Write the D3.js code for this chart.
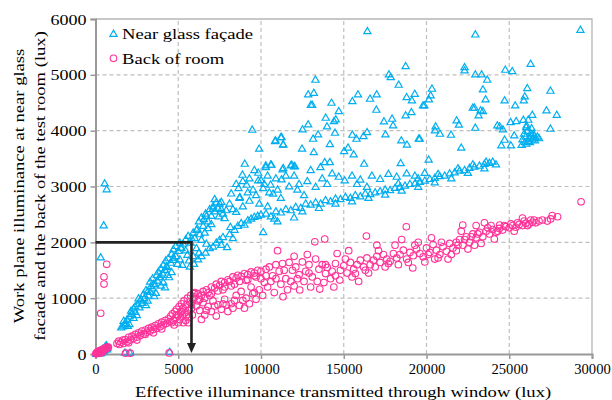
<!DOCTYPE html>
<html>
<head>
<meta charset="utf-8">
<script src="https://cdn.jsdelivr.net/npm/d3@7"></script>
<style>
  body { margin: 0; background: #fff; }
  svg { display: block; }
  text { font-family: "Liberation Serif", "Times New Roman", serif; fill: #000; }
</style>
</head>
<body>
<svg id="chart" width="612" height="400"></svg>
<script>
// Axis ticks
const xTicks = [0, 5000, 10000, 15000, 20000, 25000, 30000];
const yTicks = [0, 1000, 2000, 3000, 4000, 5000, 6000];

// Series labels
const seriesNames = ["Near glass façade", "Back of room"];

// Axis titles
const xTitle = "Effective illuminance transmitted through window (lux)";
const yTitleLines = ["Work plane illuminance at near glass", "facade and the back of the test room (lux)"];

// Reading guide: 2000 lux on the work plane <-> transmitted illuminance
const guideLevel = 2000;
const guideInput = 5800;

// Work plane illuminance near the glass façade [transmitted lux, work plane lux]
const nearFacade = [
  [40,5],[80,15],[120,10],[160,25],[200,30],[240,20],[280,45],[320,40],[360,60],[400,55],
  [440,75],[480,70],[520,90],[560,85],[600,110],[640,100],[680,130],[720,120],[600,145],[660,160],
  [500,50],[380,35],[300,15],[450,100],[700,90],
  [1780,30],[2080,25],[4480,45],
  [555,3060],[676,2955],[495,2310],[314,1736],
  [1550,480],[1650,500],[1750,530],[1850,560],[1950,510],[2050,540],[1700,600],[1900,620],
  [2050,680],[2200,720],[2300,650],[2150,780],[2400,760],[2500,700],
  [2400,860],[2550,900],[2650,840],[2700,960],[2850,920],[2950,1000],[3050,880],[3150,960],[2600,1000],
  [2900,1080],[3050,1150],[3200,1050],[3300,1120],[3450,1180],[3550,1040],[3650,1100],[3350,1220],
  [3300,1300],[3450,1360],[3600,1250],[3750,1320],[3850,1380],[3950,1230],[4100,1290],[4200,1200],[3700,1420],
  [3800,1480],[3950,1540],[4050,1450],[4200,1510],[4350,1420],[4450,1380],[4600,1470],[4100,1600],[4300,1580],
  [4250,1680],[4400,1720],[4550,1640],[4700,1690],[4850,1760],[4950,1620],[5100,1700],[4600,1800],[5250,1600],
  [4700,1880],[4850,1940],[5000,1850],[5150,1910],[5300,1980],[5450,1860],[5550,1780],[5100,2000],[5650,1680],
  [5450,2060],[5600,2120],[5750,2000],[5900,2180],[6000,2080],[6150,2250],[6300,2150],[6100,1900],[6400,2050],
  [6500,2300],[6250,1820],[5900,1760],[6600,2180],[6700,1980],
  [6250,2380],[6400,2450],[6550,2420],[6650,2520],[6800,2380],[6900,2600],[7000,2480],[7100,2650],[7200,2560],
  [7300,2720],[7400,2620],[7500,2700],[7200,2780],[7600,2600],[7700,2520],[7800,2440],[7900,2580],[8100,2700],
  [8300,2600],[8500,2550],[8700,2800],[7000,2330],[6800,2260],[7450,2470],
  [2300,820],[2750,990],[3150,1120],[3500,1260],[3900,1380],[4300,1560],[4700,1730],[5200,1900],[5800,2080],
  [6100,2230],[6700,2480],[7100,2610],[7600,2730],
  [5700,1570],[5950,1620],[6200,1700],[6400,1760],[6650,1820],[6900,1900],[7100,1930],[7300,2000],[7500,2050],
  [7700,2100],[7950,1920],[8100,2150],[8150,2280],[8400,2230],[8600,2300],[8800,2350],[9000,2320],[9200,2400],
  [9400,2430],[9600,2460],[9800,2480],[10000,2500],[7600,1960],[8300,2080],
  [9470,4022],[9890,3682],[10850,3818],[11240,3890],[11340,3759],[9020,3413],[8880,3216],[9830,3252],[10290,3353],
  [10630,3395],[11300,3311],[11860,3395],[12040,3371],[8640,2977],[9130,3037],[9520,2948],[9830,3115],[10130,2977],
  [10580,3037],[10730,2876],[11240,3133],[11700,3007],[8720,2816],[9300,2750],[10130,2190],[9700,2850],[10400,3200],
  [11000,2950],[10000,3120],[9200,2900],
  [8200,2880],[8500,3050],[8900,3100],[9300,3150],[9600,3300],[10200,3050],[10500,2900],[10900,3150],[11500,3200],
  [11200,2800],[12200,2950],[12600,2850],[9900,2700],[10400,2650],[8900,2650],
  [10300,2520],[10600,2470],[10900,2560],[11200,2540],[11500,2600],[11800,2580],[12100,2640],[12400,2620],
  [12700,2700],[13000,2680],[13300,2720],[13600,2700],[13900,2760],[14200,2740],[14500,2790],[14800,2780],
  [15100,2820],[15400,2800],[15700,2850],[16000,2830],[16300,2880],[16600,2870],[16900,2900],[17200,2920],
  [17500,2950],[17800,2940],[18100,2980],[18400,3000],[18700,3020],[19000,3050],[19300,3060],[19600,3090],
  [19900,3110],[20200,3140],[20500,3160],[20800,3190],[21100,3200],[21400,3240],[21700,3260],[22000,3290],
  [22300,3300],[22600,3340],[22900,3360],[23200,3380],[23500,3410],[23800,3430],[24000,3450],[23600,3450],
  [22800,3400],[21900,3330],[20700,3230],[19500,3150],[18300,3060],[12000,2450],[10800,2430],
  [11000,2380],[12500,2560],[13500,2620],[14500,2700],[15500,2740],[16500,2800],[17500,2860],[18500,2930],
  [19500,3000],[20500,3080],[21500,3150],[22500,3250],[23500,3330],[24200,3400],
  [12300,3050],[12800,3100],[13300,3000],[13700,3150],[14300,3240],[14700,3180],[15060,3115],[15500,3200],
  [16000,3130],[16700,3200],[17200,3140],[17700,3230],[18200,3180],[18800,3240],[19300,3200],[19890,3250],
  [12000,3200],[13000,3300],[14000,3050],[15800,3050],[16400,3000],
  [16430,5787],[18740,5161],[17730,5012],[17840,4964],[13290,4917],[18320,4828],[12850,4654],[13190,4684],
  [13010,4469],[13090,4469],[14260,4505],[14700,4355],[13910,4237],[14520,4207],[14410,4176],[13990,4081],
  [12850,4117],[12510,4028],[14470,3968],[13450,3938],[13150,3861],[11200,3890],[10880,3831],[11340,3754],
  [12480,3682],[13190,3621],[14160,3765],[15520,4534],[15860,4654],[16590,4577],[16990,4654],[16970,4380],
  [17430,4171],[17920,4219],[17980,4099],[18740,4278],[19090,4337],[18800,4606],[19290,4666],[19120,4547],
  [19790,4457],[15520,3932],[15770,3861],[16190,3908],[16410,3979],[17520,3938],[18480,3831],[18820,3754],
  [19530,3861],[15260,3700],[15020,3640],[15600,3580],[16230,3413],[18440,3424],[14160,3442],[13850,3442],
  [13590,3353],[11800,3383],[12000,3365],[11340,3335],[10590,3395],[10290,3383],
  [29300,5812],[22950,5728],[22300,5143],[22300,5084],[26290,5203],[22950,5012],[23330,5012],[23670,4917],
  [24760,5096],[25180,5071],[20330,4756],[23410,4744],[20250,4636],[20150,4565],[19870,4457],[23570,4565],
  [24720,4547],[25360,4457],[26090,4767],[25940,4618],[25880,4547],[27490,4720],[22800,4416],[22900,4416],
  [23270,4368],[23410,4355],[23150,4278],[26390,4290],[26150,4201],[27250,4368],[27870,4290],[21820,4189],
  [21960,4112],[25420,4176],[25080,4159],[20550,4081],[20510,4010],[20810,3950],[21480,3932],[22950,4058],
  [24280,4099],[24420,4081],[24620,4028],[27490,4040],[26030,4069],[25300,3920],[24720,3843],[24520,3741],
  [25100,3741],[26030,3771],[22100,3700],[20130,3485],[19590,3861],
  [25800,3850],[25900,3950],[26000,3900],[26100,4000],[26200,3880],[26300,3960],[26400,3850],[26500,3920],
  [26600,3880],[26700,3900],[26800,3870],[25950,3800],[26150,3820],[26350,4050],[26050,4100],[25850,4200],
  [26250,3800],[26550,3830],[25750,3750],[26450,3950]
];

// Work plane illuminance at the back of the room [transmitted lux, work plane lux]
const backOfRoom = [
  [20,5],[60,10],[100,15],[140,20],[180,20],[220,30],[260,35],[300,40],[340,45],[380,50],
  [420,55],[460,60],[500,70],[540,75],[580,85],[620,90],[660,100],[700,110],[740,120],[780,125],
  [150,40],[250,60],[350,70],[450,90],[550,100],[650,120],[100,35],[200,10],[300,20],[400,30],
  [314,730],[513,1384],[513,1253],[676,1606],
  [1820,15],[2100,15],[4450,20],
  [1300,190],[1400,230],[1450,170],[1550,210],[1650,250],[1700,190],[1800,260],[1900,220],[2000,300],
  [2100,250],[2200,320],[2300,280],[2400,350],[2500,300],[2600,380],[2700,330],[2800,410],[2900,360],
  [3000,430],[3100,390],[3200,460],[3300,410],[3400,480],[3500,440],[3600,510],[3700,460],[3800,540],
  [3900,490],[4000,570],[4100,520],[4200,600],[4300,550],[4400,630],[4500,580],[2000,200],[2500,250],
  [3000,350],[3500,380],[4000,450],
  [4550,680],[4650,720],[4700,600],[4800,760],[4850,650],[4900,800],[5000,700],[5050,850],[5100,620],
  [5150,760],[5200,900],[5250,680],[5300,820],[5350,950],[5400,740],[5450,600],[5500,880],[5550,1000],
  [5600,780],[5650,650],[5700,930],[5750,1050],[5800,820],[5850,700],[5900,980],[5950,1080],[5000,560],
  [5300,560],[5600,560],[4750,520],
  [4600,560],[4900,700],[5200,760],[5500,700],[5800,900],[6000,1100],[6200,950],[6600,1000],[7000,1080],
  [7400,1130],[7800,1200],[8200,1220],[8700,1300],[9200,1330],[9600,1400],[10000,1350],[6700,780],[7200,860],
  [7700,900],[8400,960],[9000,820],[9600,1100],[10200,1280],
  [6000,1020],[6200,1080],[6400,1050],[6500,1120],[6700,1150],[6800,1100],[7000,1200],[7200,1180],
  [7300,1250],[7500,1230],[7600,1300],[7800,1280],[8000,1330],[8100,1300],[8300,1380],[8500,1360],
  [8600,1410],[8800,1390],[9000,1440],[9200,1420],[9400,1470],[9600,1450],[9800,1500],[10000,1480],
  [6300,980],[6900,1050],[7700,1150],[8400,1250],[9100,1320],[9700,1380],
  [6100,860],[6300,780],[6500,920],[6600,700],[6800,850],[7000,760],[7100,950],[7300,680],[7400,880],
  [7600,800],[7800,980],[8000,760],[8200,900],[8300,820],[8500,1050],[8700,870],[8900,960],[9100,1000],
  [9300,900],[9500,1080],[9700,980],[9900,1150],[6400,620],[7900,880],[8800,1120],[9400,1200],[10100,1050],
  [10300,1520],[10500,1560],[10700,1400],[10900,1600],[11100,1480],[11300,1620],[11500,1350],[11700,1640],
  [11900,1500],[12100,1560],[12300,1420],[12500,1650],[12700,1480],[12900,1600],[13100,1380],[13300,1700],
  [13500,1520],[13700,1600],[13900,1440],[10400,1200],[10800,1100],[11200,1250],[11330,1026],[11600,1150],
  [12000,1220],[12340,1146],[12600,1300],[13000,1200],[13550,1163],[13800,1280],[13250,2010],[13850,2058],
  [12000,1750],[12800,1780],[11000,1850],[10600,1300],
  [10300,1400],[10900,1350],[11400,1500],[11800,1300],[12200,1350],[12900,1450],[13400,1300],[13900,1600],
  [14000,1550],[14300,1480],[14500,1620],[14800,1500],[15000,1580],[15200,1450],[15400,1640],[15600,1520],
  [15800,1600],[16000,1680],[16200,1560],[16400,1720],[16600,1600],[16800,1680],[17000,1750],[17200,1640],
  [17400,1780],[17600,1700],[17800,1660],[18000,1800],[18200,1720],[18400,1780],[18600,1860],[18800,1700],
  [19000,1820],[19200,1760],[19400,1880],[19600,1800],[19800,1740],[20000,1900],[20200,1820],[20400,1960],
  [20600,1860],[20800,1780],[21000,1920],[21200,1840],[21400,1980],[21600,1900],[21800,2000],[14200,1350],
  [14760,1324],[15500,1380],[16500,1450],[17500,1560],[19170,1540],[20500,1700],[21500,1780],[14600,1800],
  [15300,1850],[16370,2112],[17000,1950],[18780,2279],[18500,2050],[19500,2000],[20300,2080],[15900,1300],
  [14400,1200],
  [14500,1400],[15100,1700],[15700,1440],[16300,1500],[16900,1560],[17700,1620],[18300,1600],[18900,1640],
  [19900,1650],[20700,1720],[21300,1700],[21900,1950],[17100,1850],[18100,1950],[19300,1950],[20100,1780],
  [20900,2000],
  [22000,2050],[22200,1950],[22400,2100],[22600,2000],[22800,2150],[23000,2080],[23200,2180],[23400,2100],
  [23600,2200],[23800,2150],[24000,2230],[24200,2180],[24400,2250],[24600,2220],[24800,2280],[25000,2260],
  [25200,2300],[25400,2270],[25600,2320],[25800,2300],[26000,2340],[26200,2330],[26400,2360],[26600,2350],
  [22190,2309],[23000,2300],[23500,2350],[24420,2309],[22500,1880],[23300,1980],[24100,2060],[22100,2200],
  [25800,2434],[26300,2400],[21800,1850],
  [22300,2050],[22700,2100],[23100,2150],[23700,2260],[24300,2200],[24700,2300],[25100,2330],[25500,2350],
  [25900,2380],[26100,2300],[26500,2400],[23900,2300],[25300,2200],[22900,1950],
  [26800,2380],[27000,2400],[27300,2380],[27600,2480],[27920,2458],[27500,2420],
  [29340,2726]
];

const colors = { near: "#00AEEF", back: "#FF3399" };
const textStretch = 1.2;

const svg = d3.select("#chart");
const x = d3.scaleLinear().domain([0, 30000]).range([95.5, 592]);
const y = d3.scaleLinear().domain([0, 6000]).range([354, 19]);

// Dashed grid
const grid = svg.append("g").attr("stroke", "#BFBFBF").attr("stroke-width", 1.2).attr("stroke-dasharray", "4,3");
grid.selectAll("line.v").data(xTicks.slice(1, -1)).join("line")
  .attr("x1", d => x(d)).attr("x2", d => x(d)).attr("y1", y(0)).attr("y2", y(6000));
grid.selectAll("line.h").data(yTicks.slice(1, -1)).join("line")
  .attr("x1", x(0)).attr("x2", x(30000)).attr("y1", d => y(d)).attr("y2", d => y(d));

// Top and right frame
svg.append("path")
  .attr("d", `M${x(0)},${y(6000)}H${x(30000)}V${y(0)}`)
  .attr("fill", "none").attr("stroke", "#B5B5B5").attr("stroke-width", 1.3);

// Axes
const xAxis = svg.append("g").attr("transform", `translate(0,${y(0)})`)
  .call(d3.axisBottom(x).tickValues(xTicks).tickSize(5).tickPadding(5).tickFormat(d3.format("d")));
const yAxis = svg.append("g").attr("transform", `translate(${x(0)},0)`)
  .call(d3.axisLeft(y).tickValues(yTicks).tickSize(5).tickPadding(4).tickFormat(d3.format("d")));
[xAxis, yAxis].forEach(g => {
  g.select(".domain").attr("stroke", "#999").attr("stroke-width", 2);
  g.selectAll(".tick line").attr("stroke", "#999").attr("stroke-width", 1.5);
  g.selectAll(".tick text").attr("fill", "#000");
});
xAxis.selectAll(".tick text").attr("font-size", 14.6);
yAxis.selectAll(".tick text").attr("font-size", 15)
  .attr("x", -9 / textStretch).attr("dy", "0.34em").attr("transform", `scale(${textStretch},1)`);

// Triangle marker
const triPath = "M0,-3.4L3.6,2.8L-3.6,2.8Z";

// Near-façade points
svg.append("g").selectAll("path").data(nearFacade).join("path")
  .attr("d", triPath)
  .attr("transform", d => `translate(${x(d[0])},${y(d[1])})`)
  .attr("fill", "none").attr("stroke", colors.near).attr("stroke-width", 1.2);

// Back-of-room points
svg.append("g").selectAll("circle").data(backOfRoom).join("circle")
  .attr("cx", d => x(d[0])).attr("cy", d => y(d[1])).attr("r", 3.3)
  .attr("fill", "none").attr("stroke", colors.back).attr("stroke-width", 1.1);

// Reading guide with arrow
svg.append("path")
  .attr("d", `M${x(0)},${y(guideLevel)}H${x(guideInput)}V${y(0) - 9}`)
  .attr("fill", "none").attr("stroke", "#222").attr("stroke-width", 2.6);
svg.append("path")
  .attr("d", `M${x(guideInput) - 4.5},${y(0) - 11}L${x(guideInput) + 4.5},${y(0) - 11}L${x(guideInput)},${y(0) - 1}Z`)
  .attr("fill", "#222");

// Stretched text helper
function label(g, tx, ty, str, size, anchor, rot) {
  const t = g.append("g").attr("transform", `translate(${tx},${ty})${rot ? ` rotate(${rot})` : ""}`);
  t.append("text").attr("transform", `scale(${textStretch},1)`)
    .attr("font-size", size).attr("text-anchor", anchor).text(str);
}

// Legend
const legend = svg.append("g");
legend.append("path").attr("d", triPath).attr("transform", "translate(113.5,33.5)")
  .attr("fill", "none").attr("stroke", colors.near).attr("stroke-width", 1.2);
legend.append("circle").attr("cx", 113.5).attr("cy", 58.3).attr("r", 3.3)
  .attr("fill", "none").attr("stroke", colors.back).attr("stroke-width", 1.1);
label(legend, 122, 39, seriesNames[0], 15.5, "start");
label(legend, 122, 64, seriesNames[1], 15.5, "start");

// Axis titles
label(svg, 343, 397, xTitle, 15.5, "middle");
label(svg, 24, 186, yTitleLines[0], 15.5, "middle", -90);
label(svg, 45, 186, yTitleLines[1], 15.5, "middle", -90);
</script>
</body>
</html>
